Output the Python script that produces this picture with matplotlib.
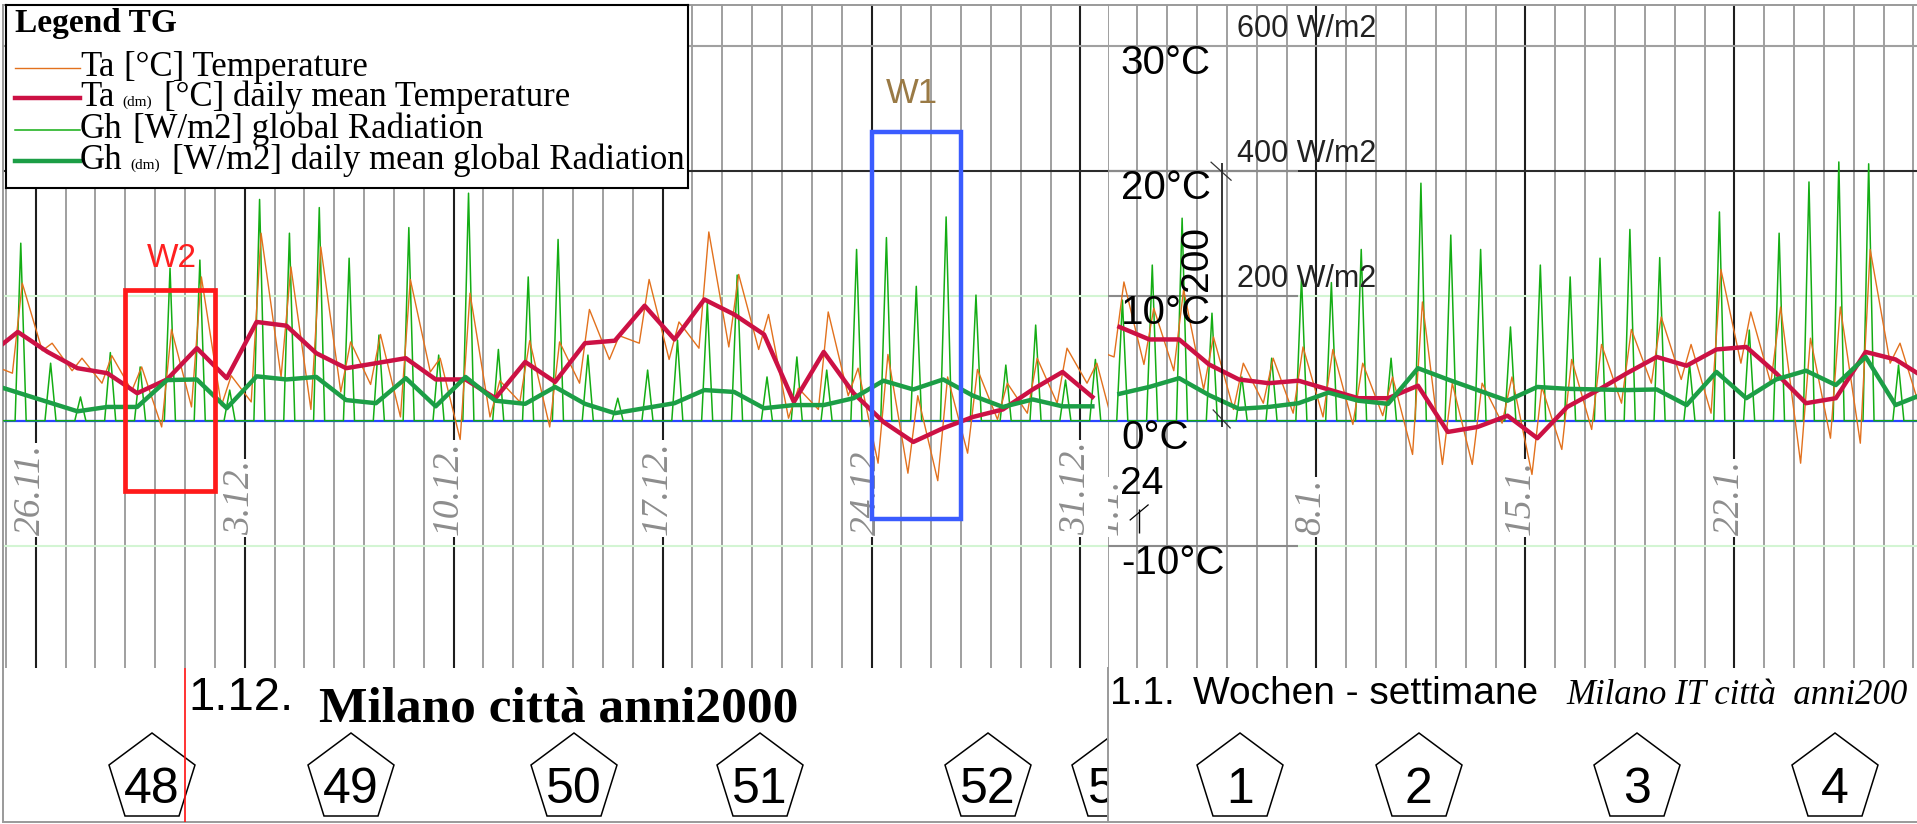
import numpy as np
import matplotlib
matplotlib.use("Agg")
import matplotlib.pyplot as plt
import matplotlib.transforms as mtransforms
from matplotlib.patches import Rectangle

plt.rcParams['font.family'] = ['Liberation Sans', 'DejaVu Sans']
SERIF = ['Liberation Serif', 'DejaVu Serif']

# ---------------- data ----------------
# Left block: day 0 = 26.11.  Daily means from 24.11. to 31.12.
dm_days_left = np.arange(-2, 36)
ta_dm_left = [5.2, 7.1, 5.5, 4.2, 3.8, 2.2, 3.3, 5.8, 3.4, 7.9,
              7.6, 5.4, 4.2, 4.6, 5.0, 3.3, 3.3, 1.8, 4.7, 3.1,
              6.2, 6.4, 9.2, 6.5, 9.7, 8.5, 6.9, 1.5, 5.5, 2.2,
              -0.1, -1.7, -0.6, 0.3, 0.9, 2.5, 3.9, 1.9]
gh_dm_left = [60, 45, 30, 15, 22, 22, 65, 66, 20, 71,
              66, 70, 33, 28, 68, 23, 70, 32, 27, 54,
              27, 12, 20, 28, 49, 46, 20, 25, 25, 36,
              64, 50, 66, 40, 22, 34, 23, 23]
# hourly course, 25.11. to 31.12.: morning minimum, afternoon maximum, noon radiation peak
hr_days_left = np.arange(-1, 36)
ta_min_left = [3.8, 5.6, 4.0, 3.0, 2.4, -0.5, 1.1, 1.2, 1.5, 3.5,
               0.9, 2.3, 2.9, 0.3, 3.9, -1.5, 0.3, 1.5, -0.5, 3.0,
               4.9, 6.2, 4.9, 5.8, 5.9, 5.7, 0.2, 0.9, 2.0, -3.4,
               -4.2, -4.8, -2.6, 0.1, 0.6, 1.4, 3.0]
ta_max_left = [11.0, 6.2, 5.0, 5.2, 4.3, 7.3, 11.5, 3.6, 15.0, 12.3,
               13.9, 6.3, 6.9, 11.3, 5.0, 10.2, 3.2, 6.4, 6.3, 8.9,
               6.8, 11.3, 7.9, 15.1, 11.7, 8.5, 2.6, 8.7, 4.2, 5.3,
               2.0, 3.5, 4.1, 3.0, 5.0, 5.8, 4.6]
ta_edges_left = (4.1, 0.9)
gh_peak_left = [284, 92, 38, 109, 86, 244, 257, 49, 354, 300,
                341, 260, 137, 309, 105, 364, 114, 230, 290, 105,
                36, 81, 129, 188, 233, 70, 102, 81, 274, 293,
                215, 326, 201, 89, 153, 65, 98]

# Right block: day 0 = 1.1.
dm_days_right = np.arange(0, 28)
ta_dm_right = [7.5, 6.5, 6.5, 4.5, 3.3, 3.0, 3.2, 2.5, 1.8, 1.8,
               2.8, -0.9, -0.5, 0.4, -1.4, 1.1, 2.4, 3.8, 5.1, 4.4,
               5.7, 5.9, 3.8, 1.4, 1.8, 5.5, 4.9, 3.4]
gh_dm_right = [43, 54, 68, 41, 19, 22, 28, 45, 32, 27,
               84, 66, 49, 32, 54, 51, 50, 49, 50, 25,
               78, 36, 66, 80, 57, 102, 25, 44]
hr_days_right = np.arange(0, 27)
ta_min_right = [5.1, 4.5, 4.0, 2.5, 0.9, 1.4, 0.6, 0.3, -0.3, 0.4,
                -2.7, -3.5, -3.5, -0.2, -4.3, -2.3, -0.7, 1.4, 3.0, 3.3,
                0.6, 4.6, 3.0, -3.4, -1.4, -1.8, 4.6]
ta_max_right = [11.1, 9.0, 10.5, 6.7, 4.6, 5.0, 5.9, 5.7, 4.6, 3.5,
                9.5, 3.0, 3.0, 3.5, 2.7, 4.9, 6.1, 7.3, 8.3, 6.1,
                12.1, 8.7, 9.1, 6.6, 9.1, 13.7, 6.2]
ta_edges_right = (5.3, 1.4)
gh_peak_right = [193, 249, 324, 172, 70, 100, 230, 221, 274, 100,
                 380, 297, 274, 150, 249, 230, 260, 306, 261, 90,
                 334, 145, 300, 382, 414, 411, 89]

date_ticks_left = [0, 7, 14, 21, 28, 35]
date_labels_left = ["26.11.", "3.12.", "10.12.", "17.12.", "24.12.", "31.12."]
date_ticks_right = [0.19, 7, 14, 21]
date_labels_right = ["1.1.", "8.1.", "15.1.", "22.1."]
weekly_left = [0, 7, 14, 21, 28, 35]
weekly_right = [7, 14, 21]

week_left = ["48", "49", "50", "51", "52", "53"]
week_pos_left = [3.88, 10.56, 18.03, 24.26, 31.9, 36.17]
week_right = ["1", "2", "3", "4"]
week_pos_right = [4.44, 10.42, 17.74, 24.37]

temp_levels = [30, 20, 10, 0, -10]
rad_levels = [600, 400, 200]

# ---------------- styling ----------------
ORANGE = '#e2711d'
CRIMSON = '#cc1144'
GREEN = '#14ad14'
GREEN_DM = '#1c9e46'
BLUE = '#2a44ff'
GRID = '#858585'
DARK = '#1e1e1e'
PALE_GREEN = '#d3f5d3'
FRAME = '#9a9a9a'

W, H, DPI = 1917, 824, 100
DAY_PX = 29.85
PLOT_TOP, PLOT_BOT, STRIP_BOT = 5, 668, 822
SPLIT, LEFT_EDGE = 1107.5, 3
ORIGIN_LEFT = 35.7
ZERO_PX, PX_PER_DEG = 420.7, 12.5
RAD_PER_DEG = 20.0

fig = plt.figure(figsize=(W / DPI, H / DPI), dpi=DPI)
fig.patch.set_facecolor('white')


def frac_rect(x0, y0, x1, y1):
    return [x0 / W, 1 - y1 / H, (x1 - x0) / W, (y1 - y0) / H]


ax_l = fig.add_axes(frac_rect(LEFT_EDGE, PLOT_TOP, SPLIT, PLOT_BOT))
ax_r = fig.add_axes(frac_rect(SPLIT, PLOT_TOP, W, PLOT_BOT))
st_l = fig.add_axes(frac_rect(LEFT_EDGE, PLOT_BOT, SPLIT, STRIP_BOT))
st_r = fig.add_axes(frac_rect(SPLIT, PLOT_BOT, W, STRIP_BOT))

xlim_l = ((LEFT_EDGE - ORIGIN_LEFT) / DAY_PX, (SPLIT - ORIGIN_LEFT) / DAY_PX)
xlim_r = (0.0, (W - SPLIT) / DAY_PX)
ylim = ((ZERO_PX - PLOT_BOT) / PX_PER_DEG, (ZERO_PX - PLOT_TOP) / PX_PER_DEG)

for ax, xl in ((ax_l, xlim_l), (ax_r, xlim_r)):
    ax.set_xlim(*xl)
    ax.set_ylim(*ylim)
for st, xl in ((st_l, xlim_l), (st_r, xlim_r)):
    st.set_xlim(*xl)
    st.set_ylim(STRIP_BOT, PLOT_BOT)

for ax in (ax_l, ax_r, st_l, st_r):
    ax.set_xticks([])
    ax.set_yticks([])
    for s in ax.spines.values():
        s.set_visible(False)
        s.set_color(FRAME)
        s.set_linewidth(1.4)
ax_l.spines['top'].set_visible(True)
ax_l.spines['left'].set_visible(True)
ax_r.spines['top'].set_visible(True)
for st in (st_l, st_r):
    st.spines['left'].set_visible(True)
    st.spines['bottom'].set_visible(True)


def temp_trace(days, tmin, tmax, edges, x0, x1):
    t = np.column_stack([days + 0.22, days + 0.55]).ravel()
    v = np.column_stack([tmin, tmax]).ravel()
    return np.r_[x0, t, x1], np.r_[edges[0], v, edges[1]]


def rad_trace(days, peaks):
    t, v = [days[0] - 0.6], [0.0]
    for d, p in zip(days, peaks):
        t += [d + 0.31, d + 0.5, d + 0.68]
        v += [0.0, p, 0.0]
    t.append(days[-1] + 1.6)
    v.append(0.0)
    return np.array(t), np.array(v)


def draw_panel(ax, xl, grid_days, weekly, dm_days, ta_dm, gh_dm,
               hr_days, tmin, tmax, edges, peaks, ticks, labels):
    rad = mtransforms.Affine2D().scale(1, 1 / RAD_PER_DEG) + ax.transData
    ax.vlines(grid_days, *ylim, colors=GRID, lw=1.1, zorder=1)
    ax.vlines(weekly, *ylim, colors=DARK, lw=1.5, zorder=1.2)
    ax.axhline(30, color='#a0a0a0', lw=1.5, zorder=1.5)
    ax.axhline(20, color='#2b2b2b', lw=1.5, zorder=1.5)
    for v in (10, -10):
        ax.axhline(v, color=PALE_GREEN, lw=1.5, zorder=1.5)
    ax.axhline(0, color=BLUE, lw=1.6, zorder=2)
    for d, lab in zip(ticks, labels):
        ax.text(d - 0.17, -9.15, lab, rotation=90, ha='center', va='bottom',
                fontsize=27, family=SERIF, style='italic', color='#8d8d8d',
                bbox=dict(facecolor='white', edgecolor='none', pad=1.0),
                zorder=2.5, clip_on=True)
    tr, vr = rad_trace(hr_days, peaks)
    ax.plot(tr, vr, color=GREEN, lw=1.1, transform=rad, zorder=3)
    tt, vt = temp_trace(hr_days, tmin, tmax, edges, xl[0], xl[1] + 0.05)
    ax.plot(tt, vt, color=ORANGE, lw=1.0, zorder=4)
    ax.plot(dm_days + 0.4, ta_dm, color=CRIMSON, lw=3.2, zorder=5)
    ax.plot(dm_days + 0.4, gh_dm, color=GREEN_DM, lw=3.2, transform=rad, zorder=6)
    return rad


draw_panel(ax_l, xlim_l, np.arange(-1, 36), weekly_left, dm_days_left,
           ta_dm_left, gh_dm_left, hr_days_left, ta_min_left, ta_max_left,
           ta_edges_left, gh_peak_left, date_ticks_left, date_labels_left)
rad_r = draw_panel(ax_r, xlim_r, np.arange(0, 28), weekly_right, dm_days_right,
                   ta_dm_right, gh_dm_right, hr_days_right, ta_min_right,
                   ta_max_right, ta_edges_right, gh_peak_right,
                   date_ticks_right, date_labels_right)

# marked weeks
ax_l.add_patch(Rectangle((3, -5.6), 3, 16.05, fill=False, ec='#ff1a1a', lw=3.4, zorder=7))
ax_l.text(4.57, 13.0, "W2", color='#ff2020', fontsize=24, ha='center', va='center', zorder=7)
ax_l.add_patch(Rectangle((28, -7.9), 3, 31.0, fill=False, ec='#3a5cff', lw=3.2, zorder=7))
ax_l.text(29.36, 26.2, "W1", color='#9a7a45', fontsize=25, ha='center', va='center', zorder=7)

# scale overlay of the right block
ax_r.hlines([20, 10, -10], 0, 6.38, colors='#8a8a8a', lw=1.5, zorder=1.6)
ax_r.vlines(3.83, -0.5, 20.6, colors='black', lw=1.1, zorder=8)
ax_r.plot([3.47, 4.14], [20.68, 19.24], color='#333333', lw=0.9, zorder=8)
ax_r.plot([3.54, 4.11], [0.86, -0.58], color='#333333', lw=0.9, zorder=8)
for lv in temp_levels:
    ax_r.text(0.45, lv - 1.4, f"{lv}°C", fontsize=29, ha='left', va='center',
              color='black', zorder=9)
for lv in rad_levels:
    ax_r.text(4.35, lv + 27, f"{lv} W/m2", fontsize=22, ha='left', va='center',
              color='#222222', transform=rad_r, zorder=9)
ax_r.text(3.0, 13.0, "200", rotation=90, fontsize=28, ha='center', va='center',
          color='black', zorder=9)
ax_r.text(1.16, -5.1, "24", fontsize=28, ha='center', va='center', color='black', zorder=9)
ax_r.vlines(1.05, -9.0, -7.1, colors='black', lw=1.0, zorder=9)
ax_r.plot([0.76, 1.36], [-7.94, -6.74], color='black', lw=0.9, zorder=9)

# week numbers and captions
for st, pos, names in ((st_l, week_pos_left, week_left), (st_r, week_pos_right, week_right)):
    st.plot(pos, [778.7] * len(pos), ls='none', marker='p', ms=65.8, mfc='white',
            mec='black', mew=1.1, clip_on=True, zorder=3)
    for x, n in zip(pos, names):
        st.text(x, 803, n, ha='center', va='baseline', fontsize=36, clip_on=True, zorder=4)

st_l.axvline(5, color='#ff1010', lw=1.2, zorder=5)
st_l.text(5.1, 710, "1.12.", fontsize=34, ha='left', va='baseline')
st_l.text(9.49, 722, "Milano città anni2000", fontsize=37, family=SERIF,
          weight='bold', ha='left', va='baseline')
st_r.text(0.08, 704, "1.1.", fontsize=28, ha='left', va='baseline')
st_r.text(2.86, 704, "Wochen - settimane", fontsize=28, ha='left', va='baseline')

renderer = fig.canvas.get_renderer()

# italic caption shrinks until it fits inside the right edge
cap_size = 25
while True:
    cap = st_r.text(15.39, 704, "Milano IT città  anni200", fontsize=cap_size,
                    family=SERIF, style='italic', ha='left', va='baseline')
    if cap.get_window_extent(renderer=renderer).x1 <= W - 4 or cap_size <= 16:
        break
    cap.remove()
    cap_size -= 0.5

# legend box
leg = fig.add_axes(frac_rect(6, 5, 688, 188), zorder=20)
leg.set_xlim(6, 688)
leg.set_ylim(188, 5)
leg.set_xticks([])
leg.set_yticks([])
for s in leg.spines.values():
    s.set_color('black')
    s.set_linewidth(1.5)
leg.text(15, 32, "Legend TG", fontsize=24, family=SERIF, weight='bold',
         ha='left', va='baseline')

entries = [
    (ORANGE, 1.0, 68, [("Ta", 25, 0), ("[°C] Temperature", 25, 10)]),
    (CRIMSON, 3.2, 98, [("Ta", 25, 0), ("(dm)", 11, 8), ("[°C] daily mean Temperature", 25, 12)]),
    (GREEN, 1.1, 130, [("Gh", 25, 0), ("[W/m2] global Radiation", 25, 10)]),
    (GREEN_DM, 3.2, 161, [("Gh", 25, 0), ("(dm)", 11, 8), ("[W/m2] daily mean global Radiation", 25, 12)]),
]
for color, lw, ly, parts in entries:
    leg.plot([15, 80], [ly, ly], color=color, lw=lw)
    x = 80
    for txt, size, gap in parts:
        x += gap
        t = leg.text(x, ly + 8, txt, fontsize=size, family=SERIF, ha='left', va='baseline')
        x += t.get_window_extent(renderer=renderer).width

fig.savefig("out.png", dpi=DPI, facecolor='white')
